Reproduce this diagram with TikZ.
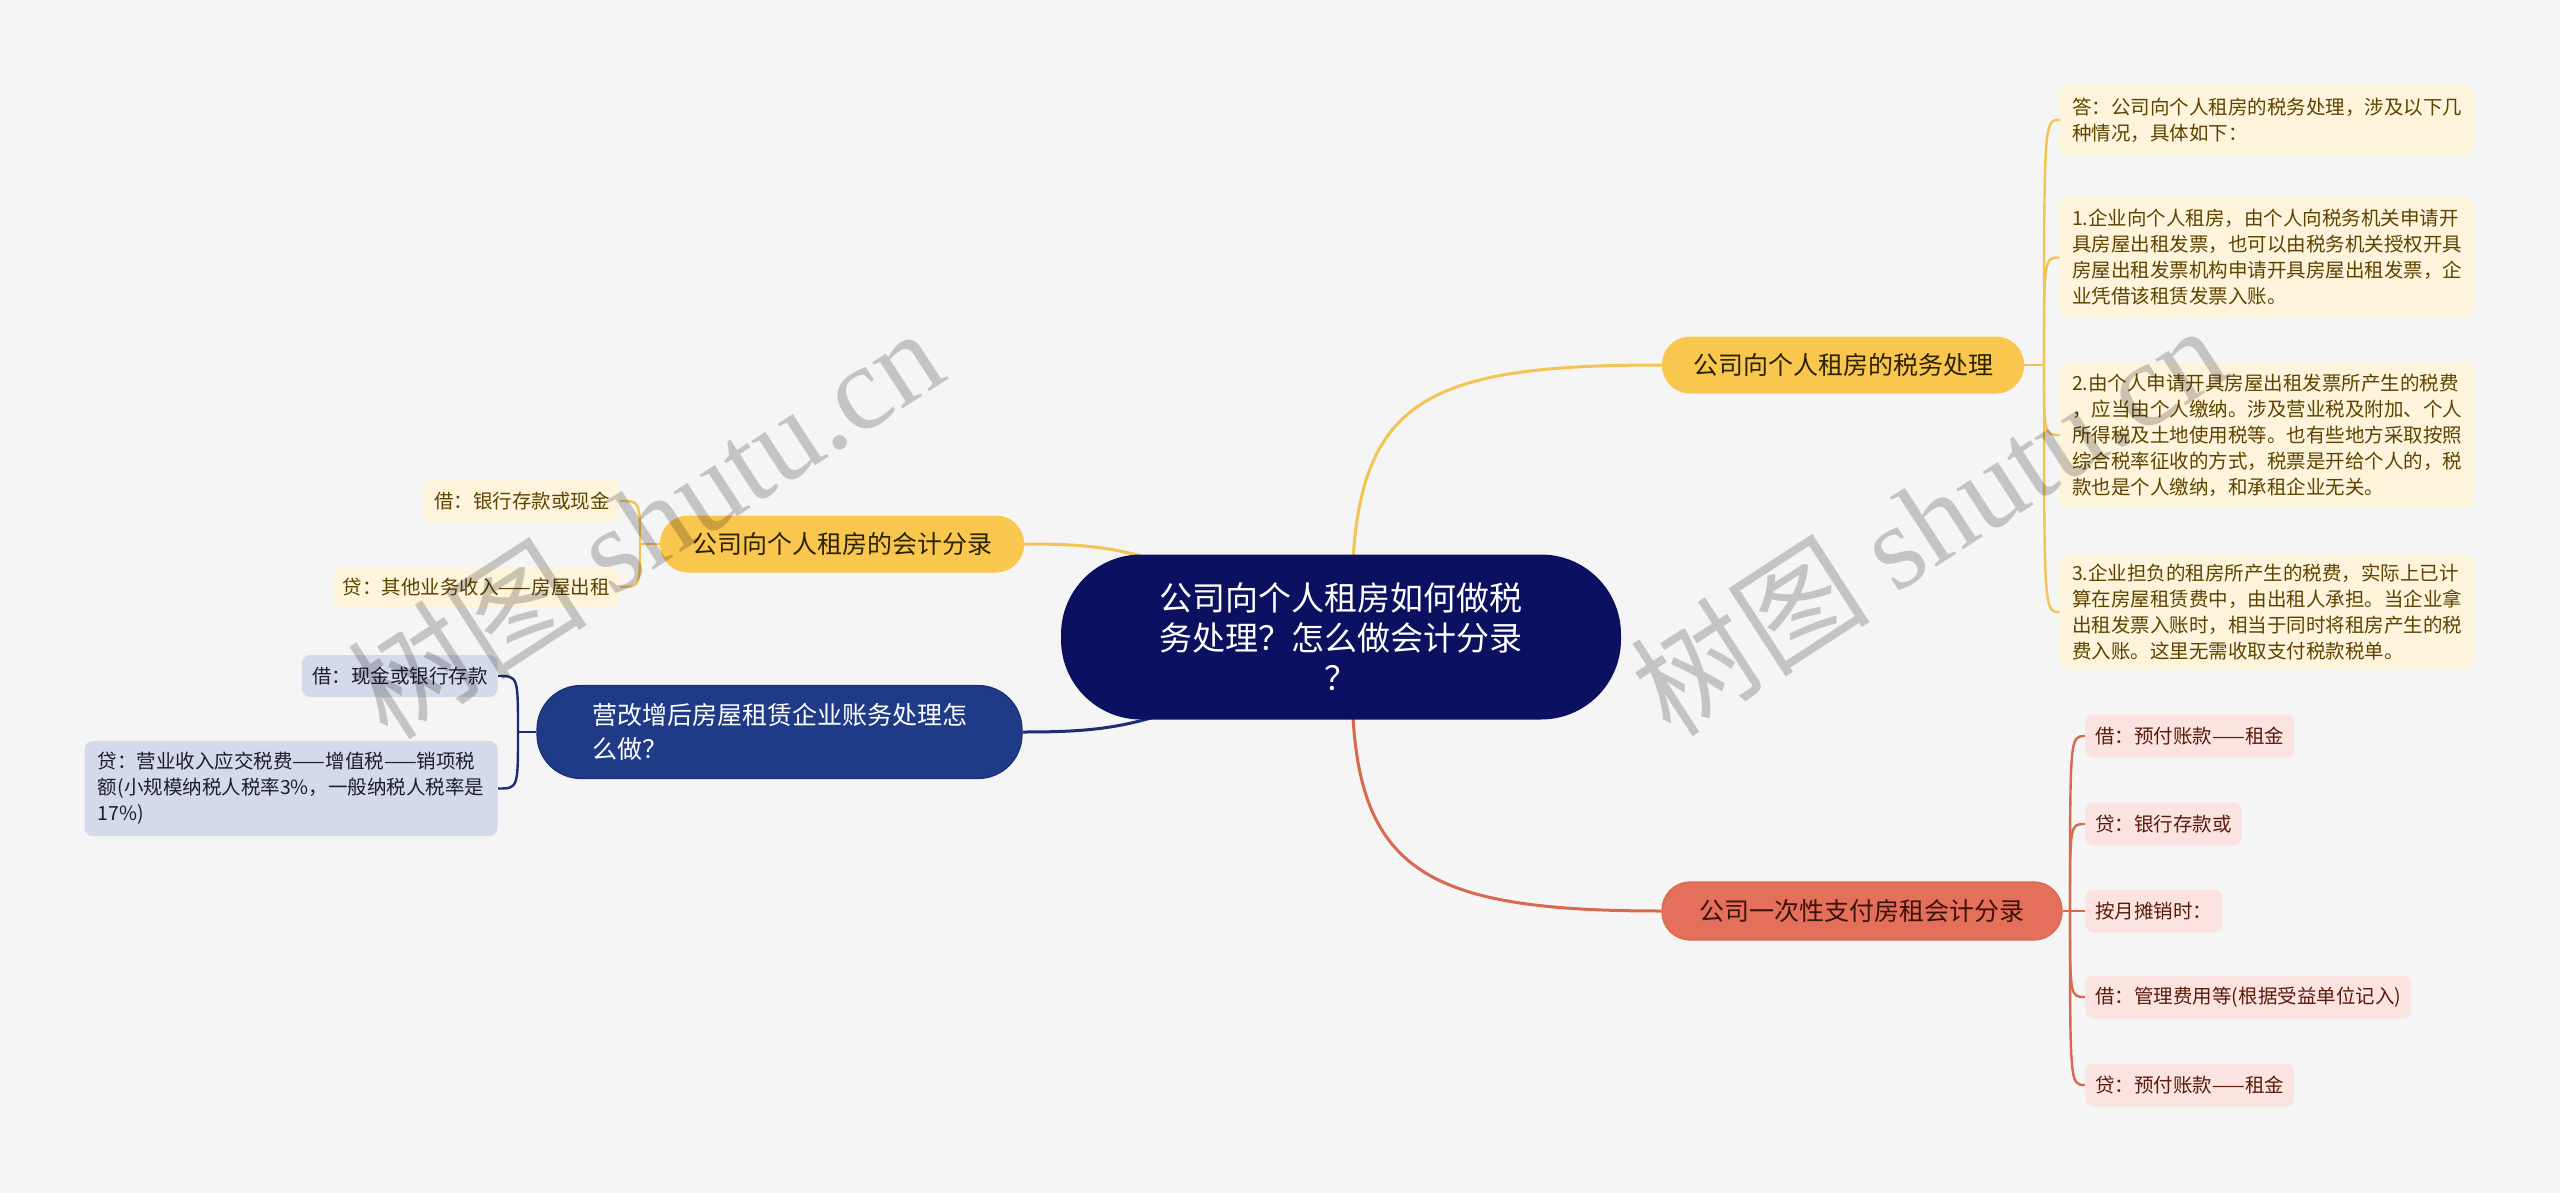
\documentclass[tikz,border=0pt]{standalone}
\usepackage{fontspec}
\setmainfont{Noto Sans CJK SC}
\newfontfamily\wmserif{Liberation Serif}
\usetikzlibrary{calc}
\pgfdeclarelayer{back}
\pgfdeclarelayer{bg}
\pgfsetlayers{back,bg,main}
\definecolor{bgc}{HTML}{F5F5F5}
\definecolor{navy}{HTML}{0B1160}
\definecolor{ybr}{HTML}{FAC74E}
\definecolor{yline}{HTML}{F3C453}
\definecolor{yleaf}{HTML}{FEF4DC}
\definecolor{ytext}{HTML}{5E4300}
\definecolor{ybtext}{HTML}{2B2200}
\definecolor{rbr}{HTML}{E4705B}
\definecolor{rline}{HTML}{D9684F}
\definecolor{rleaf}{HTML}{FBE4DF}
\definecolor{rtext}{HTML}{5A1A0E}
\definecolor{rbtext}{HTML}{3B1208}
\definecolor{bbr}{HTML}{1F3B87}
\definecolor{bline}{HTML}{1A2E70}
\definecolor{bleaf}{HTML}{D5DAEA}
\definecolor{btext}{HTML}{1C1C33}
\tikzset{
  cnode/.style={fill=navy, text=white, rounded corners=40pt, minimum width=280pt, minimum height=82.5pt, align=center, inner sep=0pt, font=\fontsize{16.5pt}{20pt}\selectfont},
  ybranch/.style={fill=ybr, text=ybtext, rounded corners=14pt, minimum height=28.5pt, inner sep=0pt, font=\fontsize{12.5pt}{17pt}\selectfont},
  rbranch/.style={fill=rbr, draw=rline, line width=0.6pt, text=rbtext, rounded corners=14pt, minimum height=29pt, inner sep=0pt, font=\fontsize{12.5pt}{17pt}\selectfont},
  bbranch/.style={fill=bbr, draw=bline, line width=0.6pt, text=white, rounded corners=22pt, minimum width=242.5pt, minimum height=46.5pt, inner sep=0pt, align=left, font=\fontsize{12.5pt}{17pt}\selectfont},
  leafbase/.style={rounded corners=4pt, align=left, inner xsep=5pt, inner ysep=0pt, font=\fontsize{9.75pt}{13pt}\selectfont},
  yleafbox/.style={leafbase, fill=yleaf, text=ytext},
  rleafbox/.style={leafbase, fill=rleaf, text=rtext, minimum height=21.5pt},
  bleafbox/.style={leafbase, fill=bleaf, text=btext},
  yl/.style={draw=yline, line width=1.5pt},
  rl/.style={draw=rline, line width=1.5pt},
  bl/.style={draw=bline, line width=1.5pt},
  yls/.style={draw=yline, line width=1.2pt},
  rls/.style={draw=rline, line width=1.2pt},
  bls/.style={draw=bline, line width=1.2pt},
  wmark/.style={rotate=33, text=black, opacity=0.2, font=\fontsize{60pt}{60pt}\selectfont, inner sep=0pt}
}
\begin{document}
\begin{tikzpicture}[x=0.5pt,y=-0.5pt]
\useasboundingbox (0,0) rectangle (2560,1193);
\begin{pgfonlayer}{back}
\fill[bgc] (0,0) rectangle (2560,1193);
\end{pgfonlayer}

% central
\node[cnode] (C) at (1341,637) {公司向个人租房如何做税\\务处理？怎么做会计分录\\？};

% branches
\node[ybranch, minimum width=181pt] (T) at (1843,365) {公司向个人租房的税务处理};
\node[rbranch, minimum width=200pt] (R) at (1862,911) {公司一次性支付房租会计分录};
\node[ybranch, minimum width=182pt] (LY) at (842,544) {公司向个人租房的会计分录};
\node[bbranch] (LB) at (779.5,732) {营改增后房屋租赁企业账务处理怎\\么做？};

% tax leaves
\node[yleafbox, minimum width=207pt, minimum height=35pt] (A) at (2267,120) {答：公司向个人租房的税务处理，涉及以下几\\种情况，具体如下：};
\node[yleafbox, minimum width=207pt, minimum height=59.5pt] (B) at (2267,257.5) {1.企业向个人租房，由个人向税务机关申请开\\具房屋出租发票，也可以由税务机关授权开具\\房屋出租发票机构申请开具房屋出租发票，企\\业凭借该租赁发票入账。};
\node[yleafbox, minimum width=207pt, minimum height=73pt] (Cc) at (2267,435) {2.由个人申请开具房屋出租发票所产生的税费\\，应当由个人缴纳。涉及营业税及附加、个人\\所得税及土地使用税等。也有些地方采取按照\\综合税率征收的方式，税票是开给个人的，税\\款也是个人缴纳，和承租企业无关。};
\node[yleafbox, minimum width=207pt, minimum height=57pt] (D) at (2267,612) {3.企业担负的租房所产生的税费，实际上已计\\算在房屋租赁费中，由出租人承担。当企业拿\\出租发票入账时，相当于同时将租房产生的税\\费入账。这里无需收取支付税款税单。};

% red leaves
\node[rleafbox, anchor=west] (R1) at (2085,736) {借：预付账款——租金};
\node[rleafbox, anchor=west] (R2) at (2085,824) {贷：银行存款或};
\node[rleafbox, anchor=west] (R3) at (2085,911) {按月摊销时：};
\node[rleafbox, anchor=west] (R4) at (2085,997) {借：管理费用等(根据受益单位记入)};
\node[rleafbox, anchor=west] (R5) at (2085,1085) {贷：预付账款——租金};

% left yellow leaves
\node[yleafbox, anchor=east, minimum height=21pt] (L1) at (620,501) {借：银行存款或现金};
\node[yleafbox, anchor=east, minimum height=20pt] (L2) at (620,587) {贷：其他业务收入——房屋出租};

% left blue leaves
\node[bleafbox, anchor=east, minimum height=21pt] (B1) at (498,676) {借：现金或银行存款};
\node[bleafbox, anchor=east, minimum width=206.5pt, minimum height=47.5pt] (B2) at (498,788.5) {贷：营业收入应交税费——增值税——销项税\\额(小规模纳税人税率3\%，一般纳税人税率是\\17\%)};

% bracket points
\coordinate (Tb) at (2044,365);
\coordinate (Rb) at (2070,911);
\coordinate (LYb) at (640,544);
\coordinate (LBb) at (518,732);
\coordinate (CT) at (1352,600);
\coordinate (CR) at (1352,680);
\coordinate (CLY) at (1240,600);
\coordinate (CLB) at (1240,680);

\begin{pgfonlayer}{bg}
% main connectors
\draw[yl] (CT) .. controls (1352,400) and (1420,365) .. (T.west);
\draw[rl] (CR) .. controls (1352,870) and (1420,911) .. (R.west);
\draw[yl] (CLY) .. controls (1150,548) and (1100,544) .. (LY.east);
\draw[bl] (CLB) .. controls (1150,728) and (1100,732) .. (LB.east);
% tax bracket
\draw[yls] (T.east) -- (Tb);
\foreach \n in {A,B,Cc,D} \draw[yls] (Tb) .. controls (Tb |- \n.west) .. (\n.west);
% red bracket
\draw[rls] (R.east) -- (Rb);
\foreach \n in {R1,R2,R3,R4,R5} \draw[rls] (Rb) .. controls (Rb |- \n.west) .. (\n.west);
% left yellow bracket
\draw[yls] (LY.west) -- (LYb);
\foreach \n in {L1,L2} \draw[yls] (LYb) .. controls (LYb |- \n.east) .. (\n.east);
% left blue bracket
\draw[bls] (LB.west) -- (LBb);
\foreach \n in {B1,B2} \draw[bls] (LBb) .. controls (LBb |- \n.east) .. (\n.east);
\end{pgfonlayer}

% watermarks
\node[wmark] (W1) at (645,522) {树图 {\wmserif shutu.cn}};
\node[wmark] (W2) at (1928,519) {树图 {\wmserif shutu.cn}};
\end{tikzpicture}
\end{document}
